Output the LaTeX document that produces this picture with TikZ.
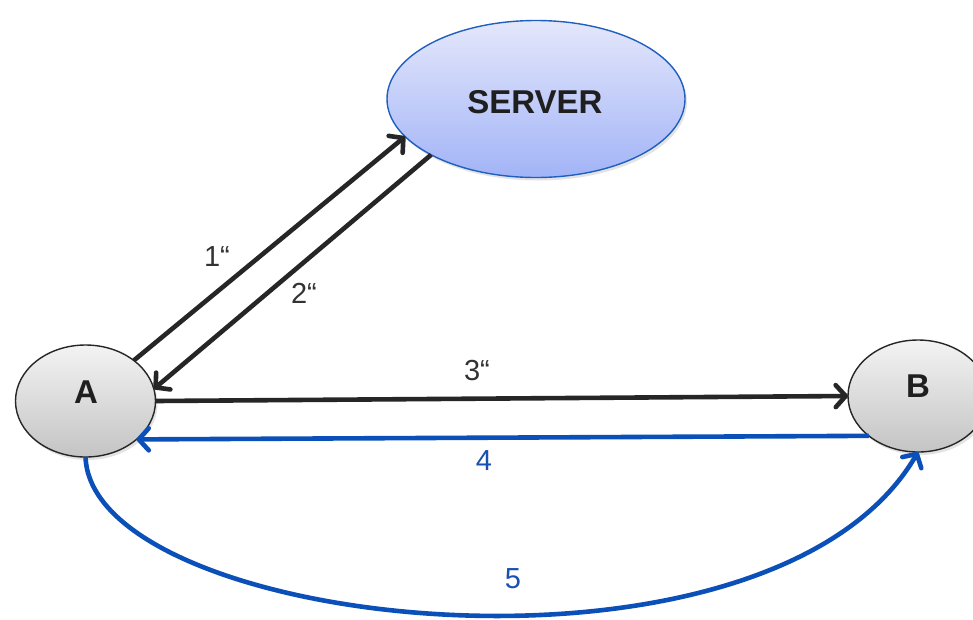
\documentclass[tikz,border=0pt]{standalone}
\usepackage{fontspec}
\setmainfont{Liberation Sans}
\usetikzlibrary{arrows.meta,shapes.geometric,shadows,calc}
\definecolor{linegray}{HTML}{262626}
\definecolor{arrowblue}{HTML}{0B50B8}
\definecolor{labelgray}{HTML}{333333}
\definecolor{labelblue}{HTML}{1A50B0}
\definecolor{serverborder}{HTML}{1F5FBF}
\definecolor{servertop}{HTML}{E4E7FB}
\definecolor{serverbottom}{HTML}{A2B4F7}
\definecolor{grtop}{HTML}{F3F3F3}
\definecolor{grbottom}{HTML}{C4C4C4}
\begin{document}
\begin{tikzpicture}[x=1pt,y=-1pt,
  blob/.style={ellipse, line width=1.4pt, inner sep=0pt, outer sep=0pt,
    drop shadow={opacity=0.22, shadow xshift=2pt, shadow yshift=-3pt}},
  serverblob/.style={blob, draw=serverborder, top color=servertop, bottom color=serverbottom,
    minimum width=298pt, minimum height=157pt},
  userblob/.style={blob, draw=black!85, top color=grtop, bottom color=grbottom,
    minimum width=140pt, minimum height=112pt},
  nametext/.style={font=\bfseries\fontsize{33}{33}\selectfont, text=black!88, anchor=base, inner sep=0pt},
  numtext/.style={font=\fontsize{29}{29}\selectfont, anchor=base, inner sep=0pt},
  flow/.style={line width=4.6pt, -{Straight Barb[length=10pt,width=22pt,round]}},
]
\useasboundingbox (0,0) rectangle (973,619);
\fill[white] (0,0) rectangle (973,619);

% nodes
\node[serverblob] (server) at (536,99) {};
\node[userblob] (A) at (85.5,401) {};
\node[userblob] (B) at (918,396) {};

\node[nametext] (servertxt) at (535,113) {SERVER};
\node[nametext] (Atxt) at (86,403) {A};
\node[nametext] (Btxt) at (918,397) {B};

% connectors
\draw[flow, draw=linegray] (A.40) -- (server.196);
\draw[flow, draw=linegray] (server.208) -- (A.10);
\draw[flow, draw=linegray] (A.east) -- (B.west);
\draw[flow, draw=arrowblue] (B.219) -- (A.-37);
\draw[flow, draw=arrowblue] (A.south) .. controls (92,630) and (770,705) .. (B.south);

% labels
\node[numtext, text=labelgray] (l1) at (217,266) {1“};
\node[numtext, text=labelgray] (l2) at (304,303) {2“};
\node[numtext, text=labelgray] (l3) at (477,380) {3“};
\node[numtext, text=labelblue] (l4) at (484,470) {4};
\node[numtext, text=labelblue] (l5) at (513,588) {5};
\end{tikzpicture}
\end{document}
